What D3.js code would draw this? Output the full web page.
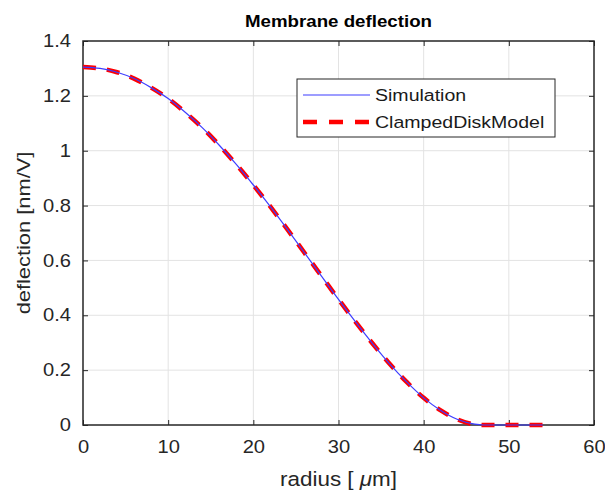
<!DOCTYPE html>
<html>
<head>
<meta charset="utf-8">
<script src="https://cdn.jsdelivr.net/npm/d3@7"></script>
<style>
  body { margin: 0; background: #fff; }
  svg { font-family: "Liberation Sans", Arial, sans-serif; }
</style>
</head>
<body>
<svg id="chart" width="605" height="496"></svg>
<script>
// values (radius in um, deflection in nm/V)
var radius = [0, 2, 4, 6, 8, 10, 12, 14, 16, 18, 20, 22, 24, 26, 28, 30, 32, 34, 36, 38, 40, 42, 44, 46, 47, 48, 50, 52, 54];
var simulation = [1.305, 1.300, 1.286, 1.263, 1.230, 1.190, 1.140, 1.084, 1.020, 0.950, 0.875, 0.796, 0.713, 0.628, 0.543, 0.458, 0.376, 0.297, 0.223, 0.157, 0.099, 0.053, 0.020, 0.003, 0, 0, 0, 0, 0];
var clampedDiskModel = [1.305, 1.300, 1.286, 1.263, 1.230, 1.190, 1.140, 1.084, 1.020, 0.950, 0.875, 0.796, 0.713, 0.628, 0.543, 0.458, 0.376, 0.297, 0.223, 0.157, 0.099, 0.053, 0.020, 0.002, 0, 0, 0, 0, 0];
var xTicks = [0, 10, 20, 30, 40, 50, 60];
var yTicks = [0, 0.2, 0.4, 0.6, 0.8, 1, 1.2, 1.4];
var seriesNames = ["Simulation", "ClampedDiskModel"];

var plotLeft = 83, plotRight = 594, plotTop = 41, plotBottom = 425;
var axisColor = "#262626";
var sx = 1.15; // the reference text is a bit wider than Liberation Sans

var svg = d3.select("#chart");

var x = d3.scaleLinear().domain([0, 60]).range([plotLeft, plotRight]);
var y = d3.scaleLinear().domain([0, 1.4]).range([plotBottom, plotTop]);

// grid
var grid = svg.append("g");
grid.selectAll("line.gx")
    .data(xTicks.slice(1, -1))
    .enter().append("line")
    .attr("x1", d => x(d)).attr("x2", d => x(d))
    .attr("y1", plotTop).attr("y2", plotBottom)
    .attr("stroke", "#e3e3e3").attr("stroke-width", 1);
grid.selectAll("line.gy")
    .data(yTicks.slice(1, -1))
    .enter().append("line")
    .attr("x1", plotLeft).attr("x2", plotRight)
    .attr("y1", d => y(d)).attr("y2", d => y(d))
    .attr("stroke", "#e3e3e3").attr("stroke-width", 1);

function styleAxis(g) {
    g.select(".domain").remove();
    g.selectAll(".tick line").attr("stroke", axisColor);
    g.selectAll(".tick text")
        .attr("fill", axisColor)
        .attr("transform", "scale(" + sx + ",1)")
        .style("font-size", "17.5px");
}

var fmt = d => String(d);

svg.append("g").attr("transform", "translate(0," + plotBottom + ")")
    .call(d3.axisBottom(x).tickValues(xTicks).tickFormat(fmt).tickSizeInner(-5).tickSizeOuter(0).tickPadding(16))
    .call(styleAxis);
svg.append("g").attr("transform", "translate(0," + plotTop + ")")
    .call(d3.axisTop(x).tickValues(xTicks).tickFormat("").tickSizeInner(-5).tickSizeOuter(0))
    .call(styleAxis);
svg.append("g").attr("transform", "translate(" + plotLeft + ",0)")
    .call(d3.axisLeft(y).tickValues(yTicks).tickFormat(fmt).tickSizeInner(-5).tickSizeOuter(0).tickPadding(10.5))
    .call(styleAxis);
svg.append("g").attr("transform", "translate(" + plotRight + ",0)")
    .call(d3.axisRight(y).tickValues(yTicks).tickFormat("").tickSizeInner(-5).tickSizeOuter(0))
    .call(styleAxis);

// box
svg.append("rect")
    .attr("x", plotLeft).attr("y", plotTop)
    .attr("width", plotRight - plotLeft).attr("height", plotBottom - plotTop)
    .attr("fill", "none").attr("stroke", axisColor).attr("stroke-width", 1.5);

// lines
var simData = radius.map((r, i) => [r, simulation[i]]);
var modelData = radius.map((r, i) => [r, clampedDiskModel[i]]);
var line = d3.line().x(d => x(d[0])).y(d => y(d[1])).curve(d3.curveMonotoneX);

svg.append("path").datum(modelData)
    .attr("d", line)
    .attr("fill", "none")
    .attr("stroke", "#ff0000")
    .attr("stroke-width", 4.5)
    .attr("stroke-dasharray", "13,11");

svg.append("path").datum(simData)
    .attr("d", line)
    .attr("fill", "none")
    .attr("stroke", "#3d3dff")
    .attr("stroke-width", 1.2);

// legend
var lg = svg.append("g");
lg.append("rect")
    .attr("x", 297).attr("y", 79).attr("width", 258).attr("height", 58)
    .attr("fill", "#fff").attr("stroke", axisColor).attr("stroke-width", 1);
lg.append("line")
    .attr("x1", 303).attr("x2", 370).attr("y1", 95).attr("y2", 95)
    .attr("stroke", "#3d3dff").attr("stroke-width", 1.2);
lg.append("line")
    .attr("x1", 303).attr("x2", 370).attr("y1", 122).attr("y2", 122)
    .attr("stroke", "#ff0000").attr("stroke-width", 4.5).attr("stroke-dasharray", "14,12");
lg.selectAll("text")
    .data(seriesNames)
    .enter().append("text")
    .attr("transform", (d, i) => "translate(375," + (95 + i * 27) + ") scale(" + sx + ",1)")
    .attr("dy", "0.35em")
    .attr("fill", "#1a1a1a")
    .style("font-size", "17px")
    .text(d => d);

// title and labels
svg.append("text")
    .attr("transform", "translate(" + ((plotLeft + plotRight) / 2) + ",27) scale(1.1,1)")
    .attr("text-anchor", "middle")
    .attr("fill", "#000")
    .style("font-size", "17px").style("font-weight", "bold")
    .text("Membrane deflection");

var xl = svg.append("text")
    .attr("transform", "translate(" + ((plotLeft + plotRight) / 2) + ",486) scale(" + sx + ",1)")
    .attr("text-anchor", "middle")
    .attr("fill", axisColor)
    .style("font-size", "19.5px");
xl.append("tspan").text("radius [ ");
xl.append("tspan").style("font-style", "italic").text("\u03bc");
xl.append("tspan").text("m]");

svg.append("text")
    .attr("transform", "translate(30," + ((plotTop + plotBottom) / 2) + ") rotate(-90) scale(" + sx + ",1)")
    .attr("text-anchor", "middle")
    .attr("fill", axisColor)
    .style("font-size", "19px")
    .text("deflection [nm/V]");
</script>
</body>
</html>
